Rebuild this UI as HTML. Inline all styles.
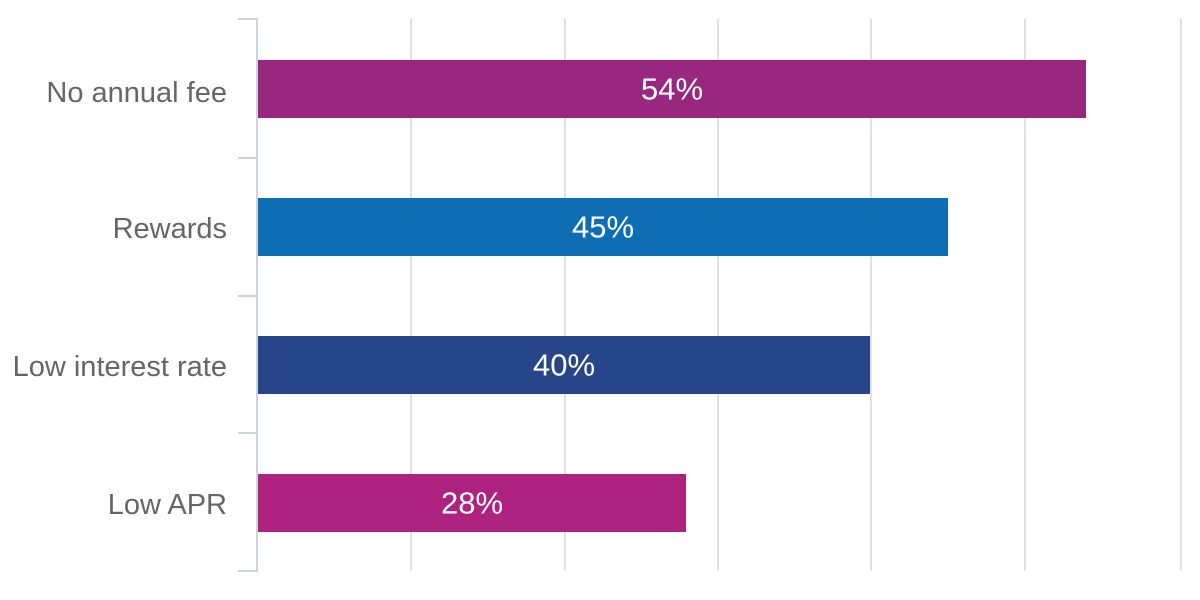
<!DOCTYPE html>
<html>
<head>
<meta charset="utf-8">
<style>
  html, body { margin: 0; padding: 0; background: #ffffff; }
  svg { display: block; }
  text { font-family: "Liberation Sans", Arial, sans-serif; }
</style>
</head>
<body>
<svg width="1200" height="600" viewBox="0 0 1200 600" xmlns="http://www.w3.org/2000/svg">
  <rect width="1200" height="600" fill="#ffffff"/>
  <!-- gridlines -->
  <g stroke="#e1e1e1" stroke-width="2">
    <line x1="411" y1="19" x2="411" y2="571"/>
    <line x1="565" y1="19" x2="565" y2="571"/>
    <line x1="718" y1="19" x2="718" y2="571"/>
    <line x1="871" y1="19" x2="871" y2="571"/>
    <line x1="1025" y1="19" x2="1025" y2="571"/>
    <line x1="1181" y1="19" x2="1181" y2="571"/>
  </g>
  <!-- axis -->
  <g stroke="#cbd5df" stroke-width="2">
    <line x1="257" y1="18" x2="257" y2="572"/>
    <line x1="238" y1="19" x2="257" y2="19"/>
    <line x1="238" y1="158" x2="257" y2="158"/>
    <line x1="238" y1="296" x2="257" y2="296"/>
    <line x1="238" y1="433" x2="257" y2="433"/>
    <line x1="238" y1="571" x2="257" y2="571"/>
  </g>
  <!-- bars -->
  <rect x="258" y="60" width="828" height="58" fill="#98277f"/>
  <rect x="258" y="198" width="690" height="58" fill="#0f6eb3"/>
  <rect x="258" y="336" width="612" height="58" fill="#27468a"/>
  <rect x="258" y="474" width="428" height="58" fill="#ae237f"/>
  <!-- value labels -->
  <g fill="#ffffff" font-size="31" text-anchor="middle">
    <text x="672" y="99.5">54%</text>
    <text x="603" y="237.5">45%</text>
    <text x="564" y="375.5">40%</text>
    <text x="472" y="513.5">28%</text>
  </g>
  <!-- category labels -->
  <g fill="#666666" font-size="29" text-anchor="end">
    <text x="227" y="102">No annual fee</text>
    <text x="227" y="238">Rewards</text>
    <text x="227" y="376">Low interest rate</text>
    <text x="227" y="514">Low APR</text>
  </g>
</svg>
</body>
</html>
